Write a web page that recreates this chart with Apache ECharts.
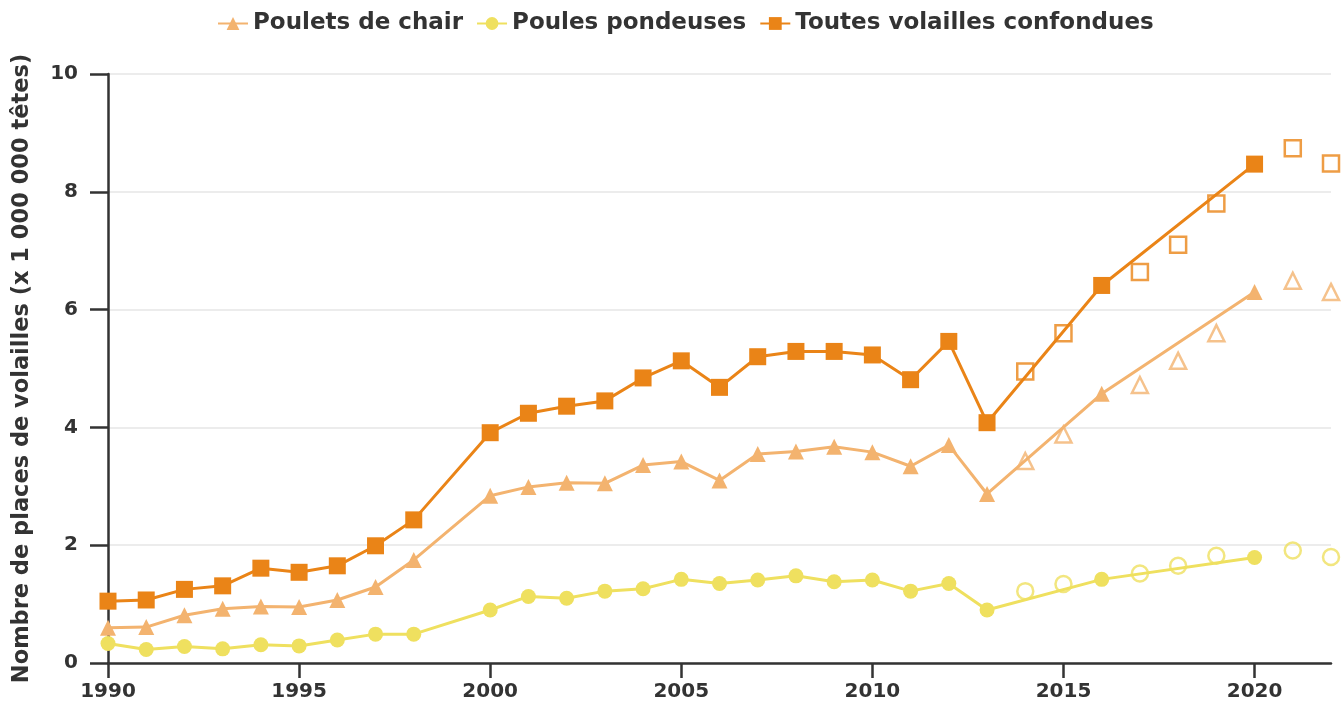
<!DOCTYPE html>
<html><head><meta charset="utf-8">
<script src="https://cdn.jsdelivr.net/npm/echarts@6/dist/echarts.min.js"></script>
<style>html,body{margin:0;padding:0;background:#fff}#c{width:1342px;height:703px}</style>
</head><body><div id="c"></div>
<script>
const years = [1990,1991,1992,1993,1994,1995,1996,1997,1998,2000,2001,2002,2003,2004,2005,2006,2007,2008,2009,2010,2011,2012,2013,2016,2020];
const poulets = [0.60,0.61,0.81,0.92,0.96,0.95,1.07,1.29,1.75,2.84,2.99,3.06,3.05,3.36,3.42,3.10,3.55,3.59,3.67,3.58,3.34,3.70,2.87,4.57,6.30];
const pondeuses = [0.33,0.23,0.28,0.24,0.31,0.29,0.39,0.49,0.49,0.90,1.13,1.10,1.22,1.26,1.42,1.35,1.41,1.48,1.38,1.41,1.22,1.35,0.90,1.42,1.79];
const toutes = [1.05,1.07,1.25,1.31,1.61,1.54,1.65,1.99,2.43,3.91,4.24,4.36,4.45,4.84,5.13,4.68,5.20,5.29,5.29,5.23,4.81,5.46,4.08,6.41,8.47];
const estYears = [2014,2015,2017,2018,2019,2021,2022];
const pouletsEst = [3.43,3.88,4.72,5.13,5.60,6.49,6.30];
const pondeusesEst = [1.22,1.34,1.52,1.65,1.82,1.91,1.80];
const toutesEst = [4.95,5.60,6.64,7.10,7.80,8.74,8.48];
const xTicks = [1990,1995,2000,2005,2010,2015,2020];
const names = ['Poulets de chair','Poules pondeuses','Toutes volailles confondues'];
const colors = ['#F3B36F','#EFE05F','#EA8417'];

const pair = (xs, ys) => xs.map((x,i) => [x, ys[i]]);
const font = 'DejaVu Sans';
const chart = echarts.init(document.getElementById('c'));
const lineSeries = (name, data, color, symbol, size) => ({
  name, type:'line', data, symbol, symbolSize:size, showSymbol:true,
  lineStyle:{color, width:3}, itemStyle:{color}, z:3, animation:false
});
const estSeries = (data, color, symbol, size) => ({
  type:'scatter', data, symbol, symbolSize:size,
  itemStyle:{color:'rgba(0,0,0,0)', borderColor:color, borderWidth:2.5}, z:4, animation:false, silent:true
});
chart.setOption({
  animation:false,
  color: colors,
  legend:{
    data:names, top:12, left:217, padding:0, itemWidth:30, itemHeight:16, itemGap:13,
    textStyle:{fontFamily:font, fontWeight:'bold', fontSize:23, color:'#333'}
  },
  grid:{left:108, right:11, top:74, bottom:40, containLabel:false},
  xAxis:{
    type:'value', min:1990, max:2022, interval:5,
    axisLine:{show:true, onZero:false, lineStyle:{color:'#333', width:2.5}},
    axisTick:{show:true, length:15, customValues:xTicks, lineStyle:{color:'#333', width:2.5}},
    axisLabel:{customValues:xTicks, formatter:v=>String(v), margin:19, fontFamily:font, fontWeight:'bold', fontSize:20, color:'#333'},
    splitLine:{show:false}
  },
  yAxis:{
    type:'value', min:0, max:10, interval:2,
    name:'Nombre de places de volailles (x 1 000 000 têtes)', nameLocation:'middle', nameGap:74,
    nameTextStyle:{fontFamily:font, fontWeight:'bold', fontSize:22.5, color:'#333'},
    axisLine:{show:true, lineStyle:{color:'#333', width:2.5}},
    axisTick:{show:true, length:18, lineStyle:{color:'#333', width:2.5}},
    axisLabel:{margin:30, fontFamily:font, fontWeight:'bold', fontSize:20, color:'#333'},
    splitLine:{show:true, lineStyle:{color:'#e6e6e6', width:1.5}}
  },
  series:[
    lineSeries(names[0], pair(years, poulets), colors[0], 'triangle', 16),
    lineSeries(names[1], pair(years, pondeuses), colors[1], 'circle', 15),
    lineSeries(names[2], pair(years, toutes), colors[2], 'rect', 17),
    estSeries(pair(estYears, pouletsEst), colors[0], 'triangle', 16),
    estSeries(pair(estYears, pondeusesEst), colors[1], 'circle', 16),
    estSeries(pair(estYears, toutesEst), colors[2], 'rect', 16)
  ]
});
</script></body></html>
